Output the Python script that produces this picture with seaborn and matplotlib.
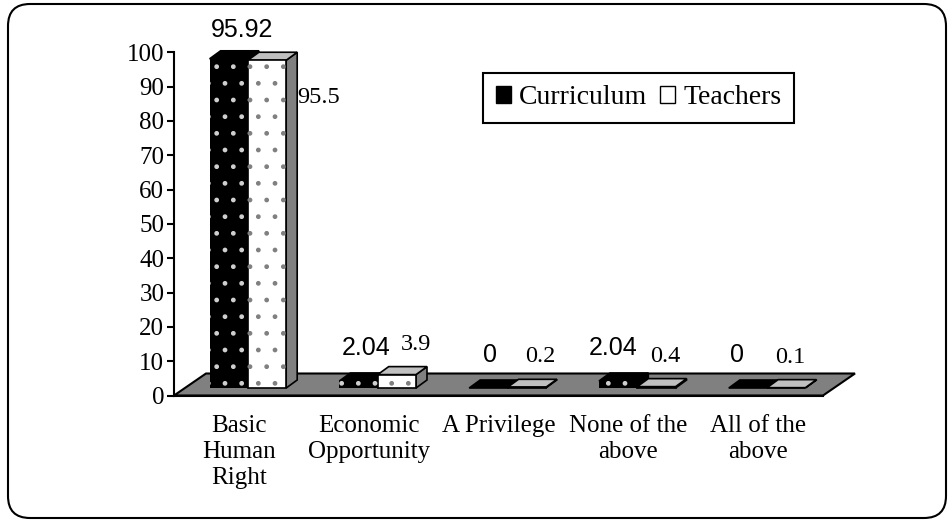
import matplotlib
matplotlib.use("Agg")
import matplotlib.pyplot as plt
import seaborn as sns
import pandas as pd
from matplotlib.patches import Polygon, Rectangle, FancyBboxPatch, Patch
from matplotlib.transforms import IdentityTransform

# data
categories = ["Basic\nHuman\nRight", "Economic\nOpportunity", "A Privilege",
              "None of the\nabove", "All of the\nabove"]
series = ["Curriculum", "Teachers"]
curriculum = [95.92, 2.04, 0, 2.04, 0]
teachers = [95.5, 3.9, 0.2, 0.4, 0.1]
y_ticks = list(range(0, 101, 10))

df = pd.DataFrame({
    "category": categories * 2,
    "series": [series[0]] * len(categories) + [series[1]] * len(categories),
    "value": curriculum + teachers,
})

sns.set_style("white")
plt.rcParams["font.family"] = ["Liberation Serif", "DejaVu Serif"]
plt.rcParams["text.color"] = "black"
plt.rcParams["xtick.color"] = "black"
plt.rcParams["ytick.color"] = "black"
plt.rcParams["axes.edgecolor"] = "black"

W, H = 952, 520
fig = plt.figure(figsize=(W / 100, H / 100), dpi=100)
ax = fig.add_axes([174 / W, 1 - 395.5 / H, (823 - 174) / W, (395.5 - 52.3) / H])
ax.patch.set_alpha(0)

sns.barplot(data=df, x="category", y="value", hue="series", order=categories,
            hue_order=series, palette={"Curriculum": "black", "Teachers": "white"},
            width=0.59, edgecolor="black", linewidth=1.2, legend=False, ax=ax,
            zorder=3)
ax.set_xlim(-0.5, len(categories) - 0.5)
ax.set_ylim(0, 100)

# pixel -> data helpers for the fake 3d look
px_x = ax.transData.transform((1, 0))[0] - ax.transData.transform((0, 0))[0]
px_y = ax.transData.transform((0, 1))[1] - ax.transData.transform((0, 0))[1]


def off(dx, dy):
    return dx / px_x, dy / px_y


# floor
fdx, fdy = off(32, 22)
x_lo, x_hi = -0.5, len(categories) - 0.5
ax.add_patch(Polygon([(x_lo, 0), (x_hi, 0), (x_hi + fdx, fdy), (x_lo + fdx, fdy)],
                     closed=True, facecolor="#808080", edgecolor="black", lw=1.5,
                     clip_on=False, zorder=1))

# bars: push back onto the middle of the floor and add side / top faces
sdx, sdy = off(9, 7.5)
ddx, ddy = off(11, 8)
bars = list(ax.patches)[:-1]
for p in bars:
    dark = p.get_facecolor()[0] < 0.5
    x0 = p.get_x() + sdx
    y0 = p.get_y() + sdy
    w, h = p.get_width(), p.get_height()
    p.set_x(x0)
    p.set_y(y0)
    p.set_clip_on(False)
    if dark:
        p.set_linewidth(0)
    x1, y1 = x0 + w, y0 + h
    side_c = "black" if dark else "#808080"
    top_c = "black" if dark else "#c0c0c0"
    dot_c = "#d0d0d0" if dark else "#808080"
    ax.add_patch(Polygon([(x1, y0), (x1 + ddx, y0 + ddy), (x1 + ddx, y1 + ddy), (x1, y1)],
                         facecolor=side_c, edgecolor="black", lw=1.2,
                         clip_on=False, zorder=2))
    ax.add_patch(Polygon([(x0, y1), (x0 + ddx, y1 + ddy), (x1 + ddx, y1 + ddy), (x1, y1)],
                         facecolor=top_c, edgecolor="black", lw=1.2,
                         clip_on=False, zorder=2))
    ax.add_patch(Rectangle((x0, y0), w, h, facecolor="none", edgecolor=dot_c, lw=0,
                           hatch=".", clip_on=False, zorder=3.5))

# value labels
for i, (c, t) in enumerate(zip(curriculum, teachers)):
    ax.annotate(f"{c:g}", xy=(i, c), xytext=(3 - 6 * i, 36 if c > 50 else 40),
                textcoords="offset pixels", ha="center", va="center", fontsize=18,
                family=["Liberation Sans", "DejaVu Sans"], annotation_clip=False)
    if t > 50:
        pos = (80, -30)
    else:
        pos = (52 - 5 * i, 38)
    ax.annotate(f"{t:g}", xy=(i, t), xytext=pos, textcoords="offset pixels",
                ha="center", va="center", fontsize=17.5, annotation_clip=False)

# axes styling
ax.set_xticks(range(len(categories)))
ax.set_xticklabels(categories, fontsize=18, linespacing=1.25)
ax.set_xticks([i - 0.5 for i in range(len(categories) + 1)], minor=True)
ax.tick_params(axis="x", which="major", length=0, pad=14)
ax.tick_params(axis="x", which="minor", length=6, width=1.5, direction="out")
ax.set_yticks(y_ticks)
ax.tick_params(axis="y", length=5, width=1.5, labelsize=18, pad=2, direction="out", left=True)
ax.set_xlabel("")
ax.set_ylabel("")
for s in ["top", "right"]:
    ax.spines[s].set_visible(False)
for s in ["left", "bottom"]:
    ax.spines[s].set_linewidth(1.5)
    ax.spines[s].set_zorder(4)

handles = [Patch(facecolor="black", edgecolor="black"),
           Patch(facecolor="white", edgecolor="black")]
leg = ax.legend(handles, series, loc="upper left", bbox_to_anchor=(483 / W, 1 - 73 / H),
                bbox_transform=fig.transFigure, ncol=2, frameon=True, fancybox=False,
                framealpha=1, edgecolor="black", fontsize=20, handlelength=0.55,
                handleheight=0.55, handletextpad=0.3, columnspacing=0.45,
                borderpad=0.45, borderaxespad=0)
leg.get_frame().set_linewidth(1.5)

# rounded outer frame
fig.add_artist(FancyBboxPatch((8, 2), 938, 514, boxstyle="round,pad=0,rounding_size=22",
                              transform=IdentityTransform(), fill=False,
                              edgecolor="black", lw=1.5))

fig.savefig("out.png", dpi=100)
